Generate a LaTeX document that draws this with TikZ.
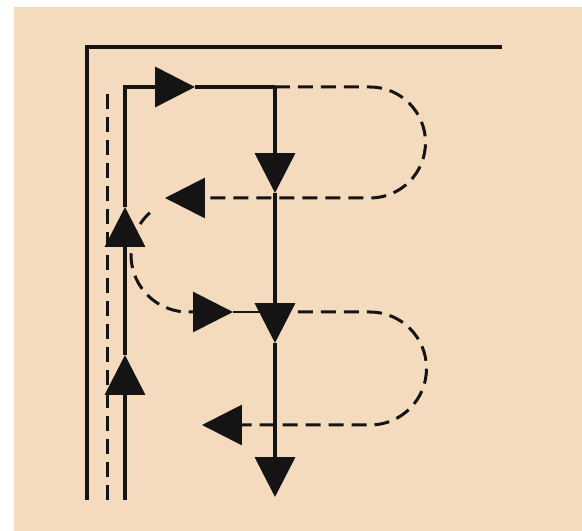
\documentclass[tikz,border=0pt]{standalone}
\usepackage{tikz}
\usetikzlibrary{arrows.meta}
\usepackage{xcolor}
\definecolor{paper}{HTML}{F5DBBE}
\definecolor{ink}{HTML}{141414}
\tikzset{
  wall/.style={line width=0.09cm, draw=ink},
  track/.style={line width=0.075cm, draw=ink},
  loop/.style={line width=0.06cm, draw=ink, dash pattern=on 0.3cm off 0.16cm},
  tip/.style={-{Triangle[length=0.8cm,width=0.8cm]}},
}

\begin{document}
\begin{tikzpicture}[x=0.02cm, y=0.02cm]  % 1 Einheit = 1 px
  \useasboundingbox (0,0) rectangle (582,531);
  \fill[paper] (14,0) rectangle (582,524);
  % Punkte
  \coordinate (start) at (125,31);
  \coordinate (corner) at (125,444);
  \coordinate (top) at (275,444);
  \coordinate (mid) at (275,219);
  \coordinate (bottom) at (275,34);
  % Wand
  \draw[wall] (87,31) -- (87,484) -- (502,484);
  \draw[loop] (107,31) -- (107,444);
  % Hauptweg hoch, quer, runter
  \draw[track, tip] (start) -- (125,176);
  \draw[track, tip] (125,176) -- (125,324);
  \draw[track, tip] (125,324) -- (corner) -- (195,444);
  \draw[track] (195,444) -- (top);
  \foreach \ya/\yb in {444/338, 338/188, 188/34}
    \draw[track, tip] (275,\ya) -- (275,\yb);
  % Schleife oben rechts
  \draw[loop, tip] (top) -- (370,444) arc[start angle=90, end angle=-90, radius=55.5] -- (165,333);
  % Schleife links
  \draw[loop, tip] (188,276) ++(132:57) arc[start angle=132, end angle=270, radius=57] -- (233,219);
  \draw[track, line width=0.05cm] (233,219) -- (mid);
  % Schleife unten rechts
  \draw[loop, tip] (mid) -- (370,219) arc[start angle=90, end angle=-90, radius=56.5] -- (202,106);
\end{tikzpicture}
\end{document}
